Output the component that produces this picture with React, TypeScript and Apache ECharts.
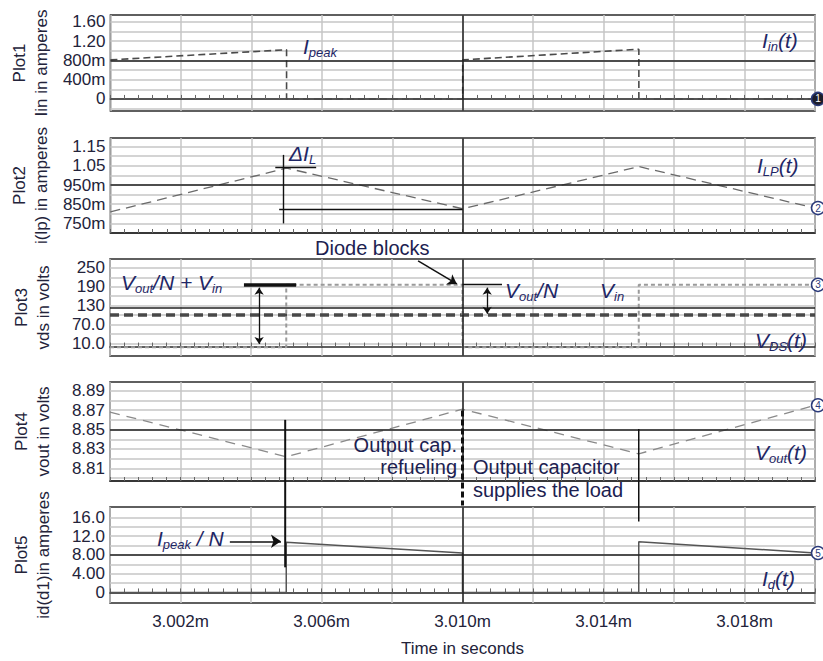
import React, { useEffect, useRef } from 'react';
import * as echarts from 'echarts';

// ---------- time axis (microseconds) ----------
const X_MIN = 3000;
const X_MAX = 3020;
const X_STEP = 2;
const X_CENTER = 3010;
const X_TICK_LABELS = [3002, 3006, 3010, 3014, 3018];

// ---------- Plot1 : Iin ----------
const IIN_T = [3000, 3005, 3005, 3010, 3010, 3015, 3015, 3020];
const IIN_A = [0.81, 1.02, 0, 0, 0.81, 1.03, 0, 0];
const P1_RANGE = [-0.25, 1.74];
const P1_GRID = [-0.2, 0, 0.2, 0.4, 0.6, 0.8, 1.0, 1.2, 1.4, 1.6];
const P1_TICKS = [0, 0.4, 0.8, 1.2, 1.6];
const P1_LABELS = ['0', '400m', '800m', '1.20', '1.60'];
const P1_CENTER = 0.8;

// ---------- Plot2 : I(Lp) ----------
const ILP_T = [3000, 3005, 3010, 3015, 3020];
const ILP_A = [0.81, 1.038, 0.826, 1.046, 0.83];
const P2_RANGE = [0.7, 1.195];
const P2_GRID = [0.75, 0.8, 0.85, 0.9, 0.95, 1.0, 1.05, 1.1, 1.15];
const P2_TICKS = [0.75, 0.85, 0.95, 1.05, 1.15];
const P2_LABELS = ['750m', '850m', '950m', '1.05', '1.15'];
const P2_CENTER = 0.95;

// ---------- Plot3 : Vds ----------
const VDS_T = [3000, 3005, 3005, 3010, 3010, 3015, 3015, 3020];
const VDS_V = [-2, -2, 196, 196, -2, -2, 196, 196];
const VIN_T = [3000, 3020];
const VIN_V = [100, 100];
const P3_RANGE = [-30, 278];
const P3_GRID = [10, 40, 70, 100, 130, 160, 190, 220, 250];
const P3_TICKS = [10, 70, 130, 190, 250];
const P3_LABELS = ['10.0', '70.0', '130', '190', '250'];
const P3_CENTER = 124;

// ---------- Plot4 : Vout ----------
const VOUT_T = [3000, 3005, 3010, 3015, 3020];
const VOUT_V = [8.868, 8.822, 8.871, 8.825, 8.875];
const P4_RANGE = [8.797, 8.899];
const P4_GRID = [8.8, 8.81, 8.82, 8.83, 8.84, 8.85, 8.86, 8.87, 8.88, 8.89];
const P4_TICKS = [8.81, 8.83, 8.85, 8.87, 8.89];
const P4_LABELS = ['8.81', '8.83', '8.85', '8.87', '8.89'];
const P4_CENTER = 8.848;

// ---------- Plot5 : Id ----------
const ID_T = [3000, 3005, 3005, 3010, 3010, 3015, 3015, 3020];
const ID_A = [0, 0, 10.7, 8.4, 0, 0, 10.8, 8.4];
const P5_RANGE = [-2.25, 18.2];
const P5_GRID = [0, 2, 4, 6, 8, 10, 12, 14, 16];
const P5_TICKS = [0, 4, 8, 12, 16];
const P5_LABELS = ['0', '4.00', '8.00', '12.0', '16.0'];
const P5_CENTER = 8;

// ---------- annotation anchors (data coordinates) ----------
const DIL_V = [[3004.91, 1.107], [3004.91, 0.75]];
const DIL_PEAK = [[3004.68, 1.043], [3005.84, 1.043]];
const DIL_VALLEY = [[3004.79, 0.826], [3010, 0.826]];
const VDS_BAR = [[3003.8, 196], [3005.28, 196]];
const VDS_ARROW1 = [[3004.23, 187], [3004.23, 8]];
const DIODE_ARROW = [[3008.74, 272], [3009.84, 199]];
const VN_LINE = [[3010, 197], [3011.12, 197]];
const VDS_ARROW2 = [[3010.7, 187], [3010.7, 104]];
const IPK_ARROW = [[3003.4, 10.9], [3004.85, 10.9]];
const CROSS1 = { t: 3004.97, v4: 8.86, v5: 5.35 };
const CROSS2 = { t: 3015, v4: 8.8507, v5: 15.1 };
const CROSS3 = { t: 3010, v4: 8.8697, v5: 18.5 };

// ---------- layout ----------
const PLOT_LEFT = 110;
const PLOT_WIDTH = 705;
const PLOT_TOPS = [15, 138, 259, 382, 507];
const PLOT_HEIGHTS = [96, 95, 97, 99, 96];

const FONT = '"Liberation Sans", Arial, Helvetica, sans-serif';
const TXT = '#23233a';
const NAVY = '#1f2766';
const GRIDC = '#c6c6c6';
const DARK = { color: '#222', width: 1.5, type: 'solid' };
const ANN = { color: '#111', width: 1.4, type: 'solid' };

const PLOTS = [
  { range: P1_RANGE, grid: P1_GRID, ticks: P1_TICKS, labels: P1_LABELS, center: P1_CENTER, name: 'Plot1\nIin in amperes' },
  { range: P2_RANGE, grid: P2_GRID, ticks: P2_TICKS, labels: P2_LABELS, center: P2_CENTER, name: 'Plot2\ni(lp) in amperes' },
  { range: P3_RANGE, grid: P3_GRID, ticks: P3_TICKS, labels: P3_LABELS, center: P3_CENTER, name: 'Plot3\nvds in volts' },
  { range: P4_RANGE, grid: P4_GRID, ticks: P4_TICKS, labels: P4_LABELS, center: P4_CENTER, name: 'Plot4\nvout in volts' },
  { range: P5_RANGE, grid: P5_GRID, ticks: P5_TICKS, labels: P5_LABELS, center: P5_CENTER, name: 'Plot5\nid(d1)in amperes' },
];

const zip = (xs: number[], ys: number[]) => xs.map((x, i) => [x, ys[i]]);

const seg = (pts: number[][], style: any, s0 = 'none', s1 = 'none', size = 8) => [
  { coord: pts[0], symbol: s0, symbolSize: size, lineStyle: style, itemStyle: { color: style.color } },
  { coord: pts[1], symbol: s1, symbolSize: size, lineStyle: style, itemStyle: { color: style.color } },
];

const markLine = (gi: number, extra: any[] = []) => ({
  silent: true,
  symbol: 'none',
  animation: false,
  label: { show: false },
  emphasis: { disabled: true },
  data: [{ yAxis: PLOTS[gi].center, lineStyle: DARK }, { xAxis: X_CENTER, lineStyle: DARK }, ...extra],
});

const markPoint = (x: number, y: number, label: string, filled = false) => ({
  silent: true,
  animation: false,
  symbol: 'circle',
  symbolSize: 13,
  data: [{ coord: [x, y], symbolOffset: [3, 0] }],
  itemStyle: { color: filled ? '#1d1d2a' : '#fff', borderColor: '#2b3a7a', borderWidth: 1.5 },
  label: { show: true, position: 'inside', formatter: label, fontSize: 10, fontFamily: FONT, color: filled ? '#fff' : '#2b3a7a' },
});

const RICH = {
  i: { fontStyle: 'italic', fontSize: 21, fontFamily: FONT, fill: NAVY, lineHeight: 25 },
  s: { fontStyle: 'italic', fontSize: 13, fontFamily: FONT, fill: NAVY, verticalAlign: 'bottom' },
};

const rt = (x: number, y: number, text: string) => ({
  type: 'text', x, y, z: 30, silent: true,
  style: { text, rich: RICH, fontSize: 21, fontFamily: FONT, fill: NAVY, verticalAlign: 'middle', align: 'left' },
});
const pt = (x: number, y: number, text: string, align = 'left') => ({
  type: 'text', x, y, z: 30, silent: true,
  style: { text, fontSize: 20, fontFamily: FONT, fill: '#1c2150', verticalAlign: 'middle', align },
});

export default function App() {
  const ref = useRef<HTMLDivElement>(null);
  useEffect(() => {
    const el = ref.current!;
    const chart = echarts.init(el, null, { renderer: 'svg' });

    const grids = PLOTS.map((_, i) => ({
      left: PLOT_LEFT, width: PLOT_WIDTH, top: PLOT_TOPS[i], height: PLOT_HEIGHTS[i],
      show: true, borderColor: '#2b2b2b', borderWidth: 1.5, backgroundColor: 'transparent',
    }));

    const xAxes = PLOTS.map((_, i) => ({
      type: 'value', gridIndex: i, min: X_MIN, max: X_MAX, interval: X_STEP,
      axisLine: { show: true, lineStyle: { color: '#2b2b2b', width: 1.5 } },
      axisTick: { show: true, inside: true, length: 4, lineStyle: { color: '#666' } },
      minorTick: { show: true, splitNumber: 5, length: 4, lineStyle: { color: '#666' } },
      minorSplitLine: { show: false },
      splitLine: { show: true, lineStyle: { color: GRIDC, width: 1.5 } },
      axisLabel: {
        show: i === 4, margin: 10, fontSize: 17, fontFamily: FONT, color: TXT,
        formatter: (v: number) => (X_TICK_LABELS.some((t) => Math.abs(t - v) < 1e-6) ? (v / 1000).toFixed(3) + 'm' : ''),
      },
      name: i === 4 ? 'Time in seconds' : '',
      nameLocation: 'middle', nameGap: 37,
      nameTextStyle: { fontSize: 17, fontFamily: FONT, color: TXT },
    }));

    const yAxes = PLOTS.map((p, i) => ({
      type: 'value', gridIndex: i, min: p.range[0], max: p.range[1],
      axisLine: { show: false },
      axisTick: { show: false, customValues: p.grid },
      splitLine: { show: true, lineStyle: { color: GRIDC, width: 1.5 } },
      axisLabel: {
        customValues: p.ticks, margin: 5, fontSize: 17, fontFamily: FONT, color: TXT,
        formatter: (v: number) => {
          const k = p.ticks.findIndex((t) => Math.abs(t - v) < 1e-6);
          return k >= 0 ? p.labels[k] : '';
        },
      },
      name: p.name, nameLocation: 'middle', nameRotate: 90, nameGap: 56,
      nameTextStyle: { fontSize: 17, lineHeight: 22, fontFamily: FONT, color: TXT, align: 'center' },
    }));

    const base = (gi: number, data: number[][], lineStyle: any) => ({
      type: 'line', xAxisIndex: gi, yAxisIndex: gi, data, symbol: 'none', showSymbol: false,
      silent: true, animation: false, lineStyle, z: 3,
    });

    const series: any[] = [
      {
        ...base(0, zip(IIN_T, IIN_A), { color: '#4a4a4a', width: 1.6, type: [7, 4] }),
        markLine: markLine(0),
        markPoint: markPoint(X_MAX, IIN_A[IIN_A.length - 1], '1', true),
      },
      {
        ...base(1, zip(ILP_T, ILP_A), { color: '#6a6a6a', width: 1.3, type: [10, 6] }),
        markLine: markLine(1, [seg(DIL_V, ANN), seg(DIL_PEAK, ANN), seg(DIL_VALLEY, ANN)]),
        markPoint: markPoint(X_MAX, ILP_A[ILP_A.length - 1], '2'),
      },
      {
        ...base(2, zip(VIN_T, VIN_V), { color: '#484848', width: 3.5, type: [9, 5] }),
      },
      {
        ...base(2, zip(VDS_T, VDS_V), { color: '#9a9a9a', width: 2, type: [4, 3] }),
        markLine: markLine(2, [
          seg(VDS_BAR, { color: '#111', width: 3.5, type: 'solid' }),
          seg(VDS_ARROW1, { color: '#111', width: 1.3, type: 'solid' }, 'arrow', 'arrow', 7),
          seg(DIODE_ARROW, { color: '#111', width: 1.5, type: 'solid' }, 'none', 'arrow', 9),
          seg(VN_LINE, ANN),
          seg(VDS_ARROW2, { color: '#111', width: 1.3, type: 'solid' }, 'arrow', 'arrow', 7),
        ]),
        markPoint: markPoint(X_MAX, VDS_V[VDS_V.length - 1], '3'),
      },
      {
        ...base(3, zip(VOUT_T, VOUT_V), { color: '#8a8a8a', width: 1.3, type: [10, 7] }),
        markLine: markLine(3),
        markPoint: markPoint(X_MAX, VOUT_V[VOUT_V.length - 1], '4'),
      },
      {
        ...base(4, zip(ID_T, ID_A), { color: '#555', width: 1.5, type: 'solid' }),
        markLine: markLine(4, [seg(IPK_ARROW, { color: '#111', width: 1.5, type: 'solid' }, 'none', 'arrow', 10)]),
        markPoint: markPoint(X_MAX, ID_A[ID_A.length - 1], '5'),
      },
    ];

    chart.setOption({
      animation: false,
      backgroundColor: '#fff',
      grid: grids,
      xAxis: xAxes,
      yAxis: yAxes,
      series,
    });

    const P = (gi: number, x: number, y: number) => chart.convertToPixel({ gridIndex: gi } as any, [x, y]) as number[];
    const cross = (c: { t: number; v4: number; v5: number }, style: any) => {
      const a = P(3, c.t, c.v4);
      const b = P(4, c.t, c.v5);
      return { type: 'line', z: 25, silent: true, shape: { x1: a[0], y1: a[1], x2: b[0], y2: b[1] }, style };
    };

    chart.setOption({
      graphic: [
        cross(CROSS1, { stroke: '#111', lineWidth: 2 }),
        cross(CROSS2, { stroke: '#111', lineWidth: 1.5 }),
        cross(CROSS3, { stroke: '#111', lineWidth: 3, lineDash: [6, 3] }),
        rt(303, 46, '{i|I}{s|peak}'),
        rt(289, 153, '{i|ΔI}{s|L}'),
        rt(121, 282, '{i|V}{s|out}{i|/N + V}{s|in}'),
        pt(315, 248, 'Diode blocks'),
        rt(505, 290, '{i|V}{s|out}{i|/N}'),
        rt(600, 290, '{i|V}{s|in}'),
        rt(755, 340, '{i|V}{s|DS}{i|(t)}'),
        rt(762, 40, '{i|I}{s|in}{i|(t)}'),
        rt(757, 165, '{i|I}{s|LP}{i|(t)}'),
        rt(755, 452, '{i|V}{s|out}{i|(t)}'),
        rt(762, 578, '{i|I}{s|d}{i|(t)}'),
        rt(157, 538, '{i|I}{s|peak}{i| / N}'),
        pt(457, 445, 'Output cap.', 'right'),
        pt(457, 467, 'refueling', 'right'),
        pt(473, 467, 'Output capacitor'),
        pt(473, 490, 'supplies the load'),
      ],
    });

    return () => chart.dispose();
  }, []);
  return <div ref={ref} style={{ position: 'absolute', left: 0, top: 0, width: 823, height: 661, background: '#fff' }} />;
}
